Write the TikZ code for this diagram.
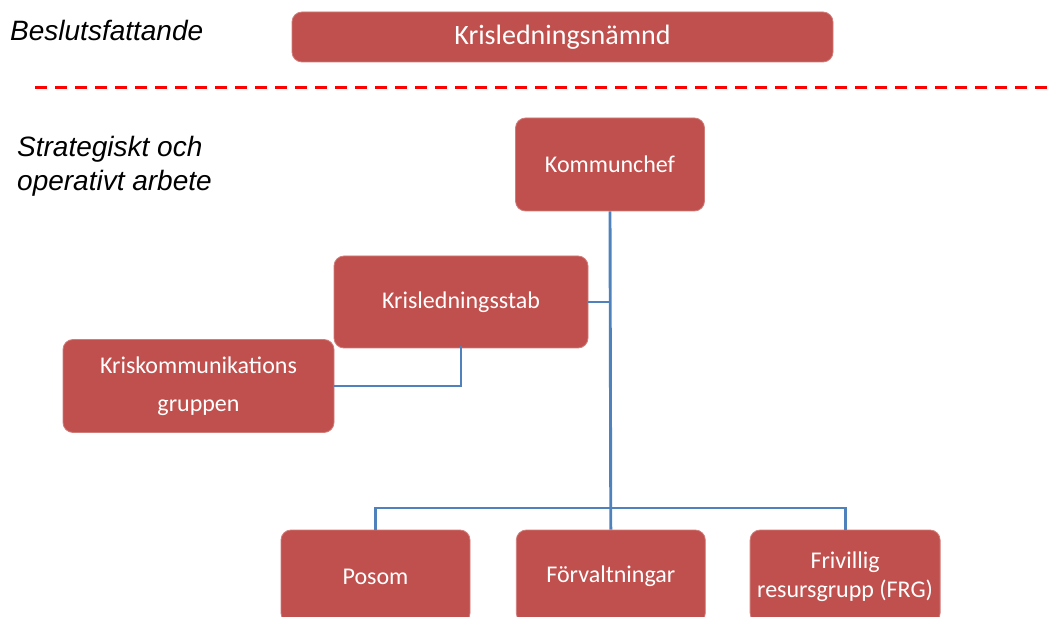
\documentclass[tikz,border=0pt]{standalone}
\usepackage{fontspec}
\setmainfont{Carlito}
\newfontfamily\labelfont{Liberation Sans}
\usetikzlibrary{positioning}
\definecolor{boxred}{HTML}{C0504D}
\definecolor{lineblue}{HTML}{4F81BD}
\definecolor{sepred}{HTML}{FF0000}

\begin{document}
\begin{tikzpicture}[x=1pt, y=-1pt,
    box/.style = {fill=boxred, draw=boxred!75!white, line width=0.8pt, rounded corners=10pt,
                  text=white, align=center, inner sep=0pt, minimum width=189pt, minimum height=93pt,
                  font=\fontsize{24}{29.5}\selectfont},
    link/.style = {draw=lineblue, line width=2.9pt},
    lbl/.style = {anchor=west, align=left, inner sep=0pt, font=\labelfont\itshape\fontsize{28}{34}\selectfont}]
    \useasboundingbox (0,0) rectangle (1055,617);
    \clip (0,0) rectangle (1055,617);

    \node[lbl] (beslut) at (10,31) {Beslutsfattande};
    \node[lbl] (strat) at (17,166) {Strategiskt och\\operativt arbete};

    \node[box, minimum width=541pt, minimum height=50pt, font=\fontsize{28}{32}\selectfont] (nmd) at (562.5,37) {Krisledningsnämnd};
    \coordinate (sepL) at (35,88);
    \coordinate (sepR) at (1055,88);
    \draw[sepred, line width=3pt, dash pattern=on 12pt off 8pt] (sepL) -- (sepR);

    \node[box] (chef) at (610,164.5) {Kommunchef};
    \node[box, minimum width=254pt, minimum height=92pt] (stab) at (461,302) {Krisledningsstab};
    \node[box, minimum width=271pt, font=\fontsize{24}{38.5}\selectfont] (komm) at (198.5,386) {Kriskommunikations\\gruppen};

    \node[box] (posom) at (375.5,576.5) {Posom};
    \node[box] (forv) [right=45.5pt of posom] {Förvaltningar};
    \node[box, minimum width=190pt] (frg) [right=44pt of forv] {Frivillig\\resursgrupp (FRG)};

    \coordinate (bus) at (610,508);

    \draw[link] (chef.south) -- (forv.north);
    \draw[link] (posom.north) |- (bus) -| (frg.north);
    \draw[link] (stab.east) -- (stab.east -| chef.south);
    \draw[link] ([yshift=2pt]stab.south) |- (komm.east);

\end{tikzpicture}
\end{document}
